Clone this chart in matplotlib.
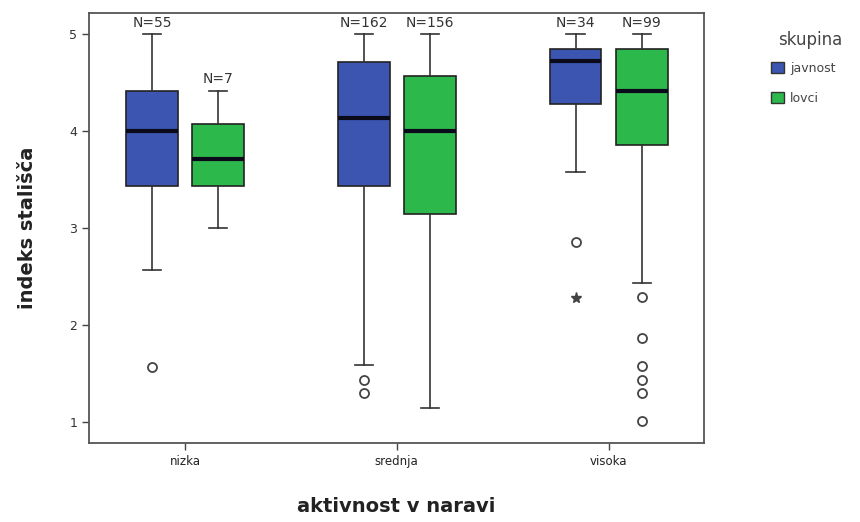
import matplotlib
matplotlib.use("Agg")
import matplotlib.pyplot as plt
from matplotlib.patches import Patch

categories = ["nizka", "srednja", "visoka"]
groups = ["javnost", "lovci"]
colors = {"javnost": "#3b55b0", "lovci": "#2db84b"}

# per category: [javnost, lovci]
whislo = [[2.57, 3.00], [1.59, 1.14], [3.58, 2.43]]
q1 =     [[3.43, 3.43], [3.43, 3.14], [4.28, 3.86]]
med =    [[4.00, 3.71], [4.14, 4.00], [4.72, 4.42]]
q3 =     [[4.42, 4.07], [4.71, 4.57], [4.85, 4.85]]
whishi = [[5.00, 4.42], [5.00, 5.00], [5.00, 5.00]]
n_vals = [[55, 7], [162, 156], [34, 99]]
outliers = [[[1.57], []],
            [[1.43, 1.30], []],
            [[2.86], [2.29, 1.86, 1.58, 1.43, 1.30, 1.01]]]
extremes = [[[], []], [[], []], [[2.28], []]]

fig = plt.figure(figsize=(8.6, 5.22), dpi=100)
ax = fig.add_axes([0.1035, 0.1513, 0.715, 0.8237])

offset = 0.156
width = 0.245
for ci, cat in enumerate(categories):
    for gi, g in enumerate(groups):
        pos = ci + (-offset if gi == 0 else offset)
        st = dict(whislo=whislo[ci][gi], q1=q1[ci][gi], med=med[ci][gi],
                  q3=q3[ci][gi], whishi=whishi[ci][gi], fliers=outliers[ci][gi])
        ax.bxp([st], positions=[pos], widths=width, patch_artist=True,
               showfliers=True, showcaps=True,
               boxprops=dict(facecolor=colors[g], edgecolor="#222222", linewidth=1.2),
               medianprops=dict(color="#0a0a1a", linewidth=3.0),
               whiskerprops=dict(color="#333333", linewidth=1.2),
               capprops=dict(color="#333333", linewidth=1.2),
               capwidths=width * 0.35,
               flierprops=dict(marker="o", markerfacecolor="white",
                               markeredgecolor="#444444", markersize=6.5,
                               markeredgewidth=1.3, linestyle="none"))
        for e in extremes[ci][gi]:
            ax.plot([pos], [e], marker="*", color="#444444", markersize=8,
                    linestyle="none")
        ax.text(pos, whishi[ci][gi] + 0.045, f"N={n_vals[ci][gi]}",
                ha="center", va="bottom", fontsize=10, color="#333333")

ax.set_xlim(-0.453, 2.45)
ax.set_ylim(0.78, 5.22)
ax.set_xticks(range(len(categories)))
ax.set_xticklabels(categories, fontsize=8.5, color="#222222")
ax.set_yticks([1, 2, 3, 4, 5])
ax.set_yticklabels(["1", "2", "3", "4", "5"], fontsize=9, color="#333333")
ax.tick_params(axis="both", length=5, width=1, color="#444444")
for s in ax.spines.values():
    s.set_color("#555555")
    s.set_linewidth(1.3)

ax.set_xlabel("aktivnost v naravi", fontsize=14, fontweight="bold", labelpad=21,
              color="#222222")
ax.set_ylabel("indeks stališča", fontsize=14, fontweight="bold", labelpad=23,
              color="#222222")

fig.text(0.905, 1 - 40 / 522, "skupina", ha="left", va="center",
         fontsize=12, color="#444444")
handles = [Patch(facecolor=colors[g], edgecolor="#333333", label=g) for g in groups]
leg = fig.legend(handles=handles, loc="upper left",
                 bbox_to_anchor=(0.885, 1 - 52 / 522), frameon=False, fontsize=9,
                 handlelength=1.0, handleheight=1.0,
                 handletextpad=0.5, labelspacing=1.35, borderpad=0.3)
for t in leg.get_texts():
    t.set_color("#444444")

fig.savefig("out.png", dpi=100)
